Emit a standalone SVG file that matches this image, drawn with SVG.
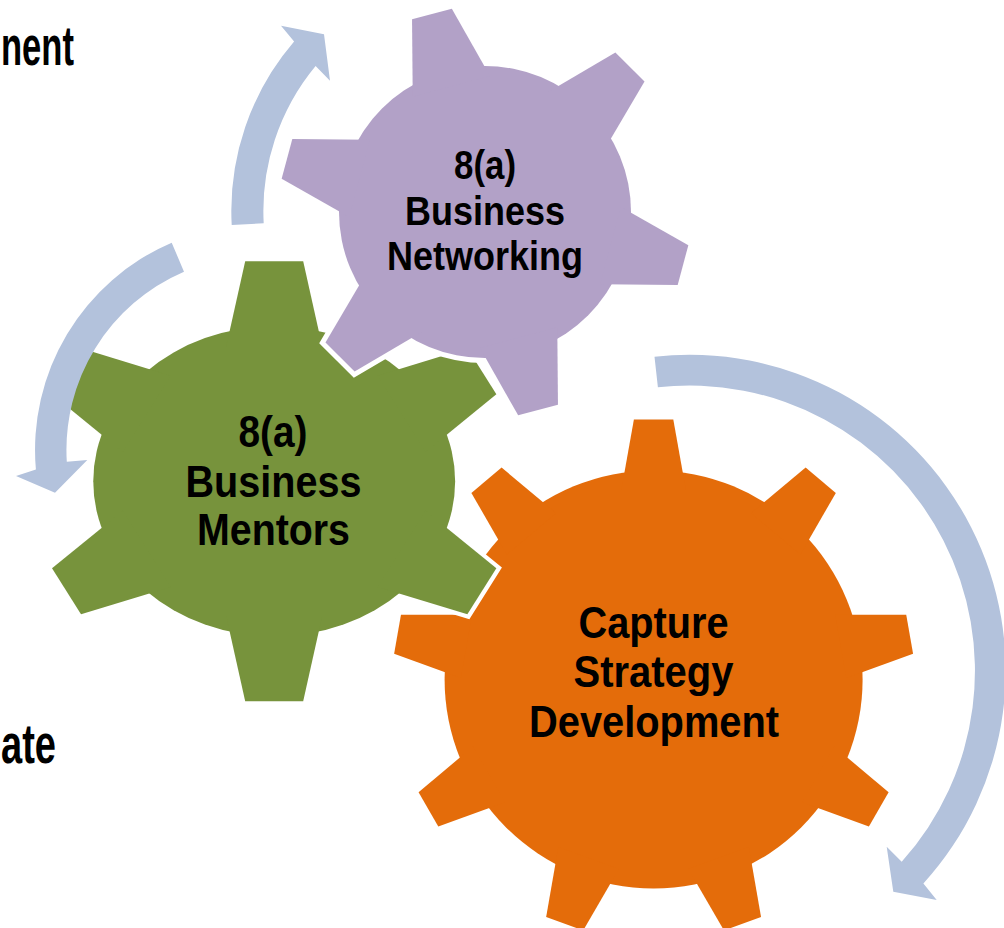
<svg xmlns="http://www.w3.org/2000/svg" xmlns:xlink="http://www.w3.org/1999/xlink" width="1004" height="928" viewBox="0 0 1004 928">
<style>
.gear-orange{fill:#E46C0A}
.gear-green{fill:#77933C}
.gear-purple{fill:#B2A1C7}
.halo{fill:#FFFFFF;stroke:#FFFFFF;stroke-linejoin:miter}
.arrow{fill:#B3C2DC}
.lbl{font-family:"Liberation Sans Narrow","Arial Narrow","Liberation Sans",Arial,sans-serif;font-weight:bold;fill:#000000;text-anchor:middle}
.side{font-family:"Liberation Sans Narrow","Arial Narrow","Liberation Sans",Arial,sans-serif;font-weight:bold;fill:#000000;font-size:56px}
</style>
<defs>
  <g id="gearO">
    <circle r="209"/>
    <polygon id="tO" points="-32.2,-190 -19.7,-260 19.7,-260 32.2,-190"/>
    <use xlink:href="#tO" href="#tO" transform="rotate(40)"/>
    <use xlink:href="#tO" href="#tO" transform="rotate(80)"/>
    <use xlink:href="#tO" href="#tO" transform="rotate(120)"/>
    <use xlink:href="#tO" href="#tO" transform="rotate(160)"/>
    <use xlink:href="#tO" href="#tO" transform="rotate(200)"/>
    <use xlink:href="#tO" href="#tO" transform="rotate(240)"/>
    <use xlink:href="#tO" href="#tO" transform="rotate(280)"/>
    <use xlink:href="#tO" href="#tO" transform="rotate(320)"/>
  </g>
  <g id="gearG">
    <ellipse rx="166" ry="155"/>
    <polygon id="tG" points="-44,-135 -26.6,-220 26.6,-220 44,-135"/>
    <use xlink:href="#tG" href="#tG" transform="rotate(60)"/>
    <use xlink:href="#tG" href="#tG" transform="rotate(120)"/>
    <use xlink:href="#tG" href="#tG" transform="rotate(180)"/>
    <use xlink:href="#tG" href="#tG" transform="rotate(240)"/>
    <use xlink:href="#tG" href="#tG" transform="rotate(300)"/>
  </g>
  <g id="gearP">
    <circle r="146"/>
    <polygon id="tP" points="-40,-130 -20.6,-205 20.6,-205 40,-130" transform="rotate(-15)"/>
    <use xlink:href="#tP" href="#tP" transform="rotate(60)"/>
    <use xlink:href="#tP" href="#tP" transform="rotate(120)"/>
    <use xlink:href="#tP" href="#tP" transform="rotate(180)"/>
    <use xlink:href="#tP" href="#tP" transform="rotate(240)"/>
    <use xlink:href="#tP" href="#tP" transform="rotate(300)"/>
  </g>
</defs>

<g id="side-texts">
  <text class="side" x="1" y="65" textLength="73" lengthAdjust="spacingAndGlyphs">nent</text>
  <text class="side" x="1" y="763" textLength="55" lengthAdjust="spacingAndGlyphs">ate</text>
</g>

<g id="node-capture-strategy">
  <g transform="translate(653.6,679.4)">
    <use xlink:href="#gearO" href="#gearO" class="gear-orange"/>
  </g>
  <text class="lbl" font-size="44" x="653.5" y="638" textLength="150" lengthAdjust="spacingAndGlyphs">Capture</text>
  <text class="lbl" font-size="44" x="653.5" y="687" textLength="160" lengthAdjust="spacingAndGlyphs">Strategy</text>
  <text class="lbl" font-size="44" x="654" y="737" textLength="250" lengthAdjust="spacingAndGlyphs">Development</text>
</g>

<g id="node-business-mentors">
  <g transform="translate(274.2,481.3) scale(1.09,1)">
    <use xlink:href="#gearG" href="#gearG" class="halo" stroke-width="8"/>
    <use xlink:href="#gearG" href="#gearG" class="gear-green"/>
  </g>
  <text class="lbl" font-size="44" x="273" y="447" textLength="69" lengthAdjust="spacingAndGlyphs">8(a)</text>
  <text class="lbl" font-size="44" x="273.5" y="497" textLength="176" lengthAdjust="spacingAndGlyphs">Business</text>
  <text class="lbl" font-size="44" x="273.5" y="545" textLength="153" lengthAdjust="spacingAndGlyphs">Mentors</text>
</g>

<g id="node-business-networking">
  <g transform="translate(485,212)">
    <use xlink:href="#gearP" href="#gearP" class="halo" stroke-width="10"/>
    <use xlink:href="#gearP" href="#gearP" class="gear-purple"/>
  </g>
  <text class="lbl" font-size="40" x="485" y="179" textLength="62" lengthAdjust="spacingAndGlyphs">8(a)</text>
  <text class="lbl" font-size="40" x="485" y="224.5" textLength="160" lengthAdjust="spacingAndGlyphs">Business</text>
  <text class="lbl" font-size="40" x="485" y="269.5" textLength="196" lengthAdjust="spacingAndGlyphs">Networking</text>
</g>

<g id="connectors">
  <path id="arrow-top" class="arrow" d="M231.7,225 A259.6,259.6 0 0 1 294.1,41.6 L281,25.7 L324,34.3 L330,80.7 L315.6,65.9 A227.5,227.5 0 0 0 263.7,223.2 Z"/>
  <path id="arrow-left" class="arrow" d="M171.7,242.7 A225.4,225.4 0 0 0 35.9,469.6 L16,476 L55,492.7 L87.3,460 L66.8,461.8 A194,194 0 0 1 184,271.7 Z"/>
  <path id="arrow-right" class="arrow" d="M654.5,356.8 A316,316 0 0 1 923.4,883.5 L936.7,900 L893.3,891.7 L886.7,846.7 L901.7,861.7 A285.3,285.3 0 0 0 657.9,387.3 Z"/>
</g>
</svg>
